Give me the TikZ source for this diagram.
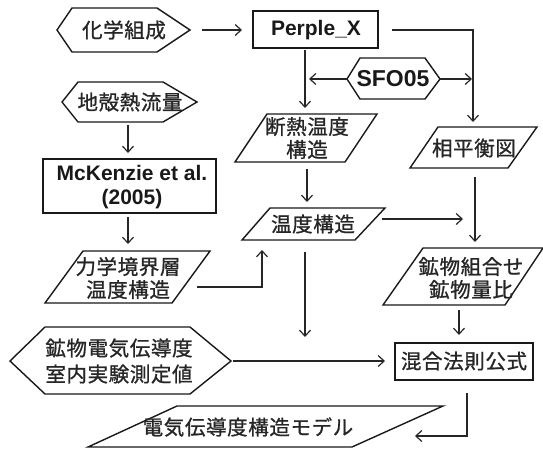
\documentclass[tikz,border=0pt]{standalone}
\usepackage{fontspec}
\setmainfont{Liberation Sans}
\newfontfamily\jp{Noto Sans CJK JP}[LetterSpace=3,FakeBold=1]
\usetikzlibrary{arrows.meta}
\begin{document}
\begin{tikzpicture}[x=1pt,y=-1pt,
  shp/.style={line width=1.4pt, draw=black!90, line join=miter},
  con/.style={line width=1.2pt, draw=black!85, -{Straight Barb[length=6pt,width=11pt,line width=1.2pt]}},
  jt/.style={font=\jp\fontsize{20.5}{23}\selectfont, align=center, inner sep=0pt, text=black!85},
  lt/.style={font=\bfseries\fontsize{21}{24}\selectfont, align=center, inner sep=0pt, text=black!90}]
\useasboundingbox (0,0) rectangle (543,448);
% shapes
\draw[shp] (57,30) -- (72,8) -- (157,8) -- (190,30) -- (157,52) -- (72,52) -- cycle;
\node[jt] (kagaku) at (124,30) {化学組成};
\draw[shp] (253,11) rectangle (378,48);
\node[lt] (perple) at (316,30) {Perple\_X};
\draw[shp] (347,79) -- (360,58) -- (425,58) -- (440,79) -- (425,99) -- (360,99) -- cycle;
\node[lt, font=\bfseries\fontsize{23}{24}\selectfont] (sfo) at (393,79) {SFO05};
\draw[shp] (62,102) -- (78,82) -- (163,82) -- (197,102) -- (163,122) -- (78,122) -- cycle;
\node[jt] (chikaku) at (130,102) {地殻熱流量};
\draw[shp] (43,159) rectangle (216,213);
\node[lt] (mck) at (132,187) {McKenzie et al.\\(2005)};
\draw[shp] (83,251) -- (210,251) -- (172,303) -- (45,303) -- cycle;
\node[jt] (rikigaku) at (128,278) {力学境界層\\温度構造};
\draw[shp] (267,114) -- (377,114) -- (345,162) -- (235,162) -- cycle;
\node[jt] (dannetsu) at (307,138) {断熱温度\\構造};
\draw[shp] (438,127) -- (537,127) -- (508,168) -- (410,168) -- cycle;
\node[jt] (sohei) at (474,148) {相平衡図};
\draw[shp] (270,208) -- (385,208) -- (355,240) -- (242,240) -- cycle;
\node[jt] (ondo) at (313,224) {温度構造};
\draw[shp] (423,248) -- (543,248) -- (505,305) -- (383,305) -- cycle;
\node[jt] (kobutsu) at (471,278) {鉱物組合せ\\鉱物量比};
\draw[shp] (10,361) -- (45,327) -- (190,327) -- (231,361) -- (190,394) -- (45,394) -- cycle;
\node[jt, font=\jp\fontsize{20.5}{26}\selectfont] (denki) at (119,361) {鉱物電気伝導度\\室内実験測定値};
\draw[shp] (395,343) rectangle (533,380);
\node[jt] (kongo) at (464,361) {混合法則公式};
\draw[shp] (177,406) -- (443,406) -- (352,447) -- (88,447) -- cycle;
\node[jt] (model) at (248,427) {電気伝導度構造モデル};
% connector end points
\coordinate (c1a) at (202,30);  \coordinate (c1b) at (242,30);
\coordinate (c2a) at (392,30);  \coordinate (c2m) at (473,30); \coordinate (c2b) at (473,122);
\coordinate (c3a) at (305,50);  \coordinate (c3b) at (305,108);
\coordinate (c4a) at (347,79);  \coordinate (c4b) at (309,79);
\coordinate (c5a) at (440,79);  \coordinate (c5b) at (472,79);
\coordinate (c6a) at (128,125); \coordinate (c6b) at (128,153);
\coordinate (c7a) at (128,217); \coordinate (c7b) at (128,244);
\coordinate (c8a) at (197,287); \coordinate (c8m) at (262,287); \coordinate (c8b) at (262,250);
\coordinate (c9a) at (307,169); \coordinate (c9b) at (307,202);
\coordinate (c10a) at (382,219); \coordinate (c10b) at (463,219);
\coordinate (c11a) at (475,177); \coordinate (c11b) at (475,242);
\coordinate (c12a) at (305,252); \coordinate (c12b) at (305,337);
\coordinate (c13a) at (459,310); \coordinate (c13b) at (459,335);
\coordinate (c14a) at (233,361); \coordinate (c14b) at (385,361);
\coordinate (c15a) at (467,393); \coordinate (c15m) at (467,436); \coordinate (c15b) at (415,436);
% connectors
\draw[con] (c1a) -- (c1b);
\draw[con] (c2a) -- (c2m) -- (c2b);
\draw[con] (c3a) -- (c3b);
\draw[con] (c4a) -- (c4b);
\draw[con] (c5a) -- (c5b);
\draw[con] (c6a) -- (c6b);
\draw[con] (c7a) -- (c7b);
\draw[con] (c8a) -- (c8m) -- (c8b);
\draw[con] (c9a) -- (c9b);
\draw[con] (c10a) -- (c10b);
\draw[con] (c11a) -- (c11b);
\draw[con] (c12a) -- (c12b);
\draw[con] (c13a) -- (c13b);
\draw[con] (c14a) -- (c14b);
\draw[con] (c15a) -- (c15m) -- (c15b);
\end{tikzpicture}
\end{document}
